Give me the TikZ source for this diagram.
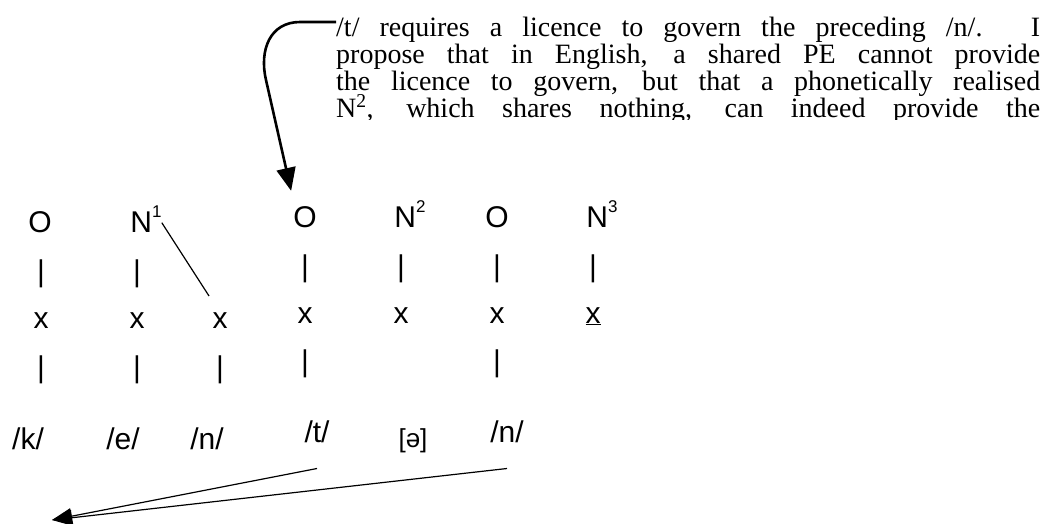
\documentclass[tikz,border=0pt]{standalone}
\usepackage{fontspec}
\setmainfont{Liberation Serif}
\setsansfont{Liberation Sans}
\usetikzlibrary{arrows.meta}
\usetikzlibrary{positioning}
\tikzset{seg/.style = {font=\sffamily\fontsize{30}{36}\selectfont,
                       inner sep=0pt, anchor=base}}
\tikzset{prose/.style = {font=\fontsize{28}{27}\selectfont,
                         inner sep=0pt, anchor=base west}}
\tikzset{licence/.style = {line width=2.6pt,
                           -{Triangle[length=23pt,width=19pt]}}}
\tikzset{govern/.style = {line width=1.2pt,
                          -{Triangle[length=20pt,width=16pt]}}}
\newcommand{\fullline}[1]{\makebox[704pt][s]{#1}}
\newcommand{\upnum}[1]{\raisebox{15pt}{\fontsize{17}{20}\selectfont #1}}

\begin{document}
\begin{tikzpicture}[x=1pt, y=-1pt]
  \useasboundingbox (0, 0) rectangle (1046, 523);

  \begin{scope}
    \clip (300, 0) rectangle (1046, 119);
    \node [prose] (line1) at (336, 36) {\fullline{/t/ requires a licence to govern the preceding /n/. I}};
    \node [prose] (line2) at (336, 63) {\fullline{propose that in English, a shared PE cannot provide}};
    \node [prose] (line3) at (336, 90) {\fullline{the licence to govern, but that a phonetically realised}};
    \node [prose] (line4) at (336, 117) {\fullline{N\textsuperscript{2}, which shares nothing, can indeed provide the}};
  \end{scope}

  \node [seg] (O1) at (40, 232) {O};
  \node [seg] (N1) at (146, 232) {N\upnum{1}};
  \node [seg] (O2) at (305, 227) {O};
  \node [seg] (N2) at (410, 227) {N\upnum{2}};
  \node [seg] (O3) at (497, 227) {O};
  \node [seg] (N3) at (602, 227) {N\upnum{3}};

  \foreach \i/\x/\y in {1/41/281, 2/137/281, 4/305/276, 5/401/276, 6/497/276, 7/593/276}
    \node [seg] (up\i) at (\x, \y) {|};

  \node [seg] (x1) at (41, 328) {x};
  \node [seg] (x2) at (137, 328) {x};
  \node [seg] (x3) at (220, 328) {x};
  \node [seg] (x4) at (305, 323) {x};
  \node [seg] (x5) at (401, 323) {x};
  \node [seg] (x6) at (497, 323) {x};
  \node [seg] (x7) at (593, 323) {\underline{x}};

  \foreach \i/\x/\y in {1/41/377, 2/137/377, 3/220/377, 4/305/371, 6/497/371}
    \node [seg] (low\i) at (\x, \y) {|};

  \node [seg] (k) at (28, 449) {/k/};
  \node [seg] (e) at (123, 449) {/e/};
  \node [seg] (n) at (207, 449) {/n/};
  \node [seg] (t) at (317, 442) {/t/};
  \node [seg, font=\sffamily\fontsize{26}{30}\selectfont] (schwa) at (413, 447) {[ə]};
  \node [seg] (nn) at (507, 442) {/n/};

  \draw [line width=1.2pt] ([yshift=-4pt]N1.east) -- ([xshift=-11pt, yshift=16pt]x3.north);

  \coordinate (tstart) at ([yshift=14pt]line1.base west);
  \draw [licence] (tstart) -- (300, 22) .. controls (270, 22) and (259, 50) .. (266, 80)
    -- ([xshift=-2pt, yshift=15pt]O2.north west);

  \coordinate (sink) at (52, 520);
  \draw [govern] ([yshift=-26pt]t.south) -- (sink);
  \draw [govern] ([yshift=-26pt]nn.south) -- (sink);
\end{tikzpicture}
\end{document}
